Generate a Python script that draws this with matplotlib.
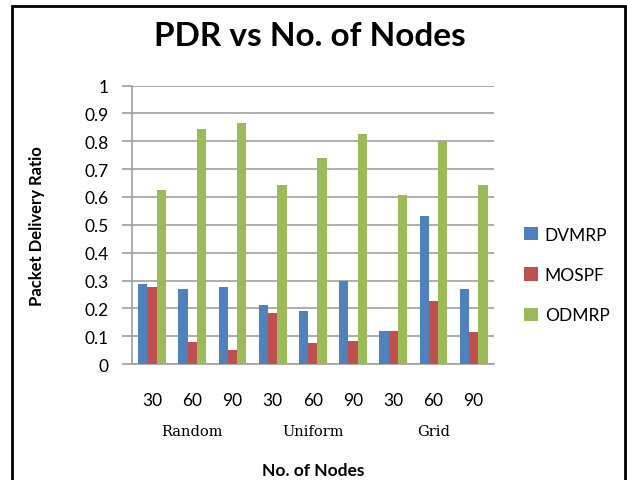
import numpy as np
import matplotlib.pyplot as plt
from matplotlib.patches import Rectangle

nodes = ['30', '60', '90', '30', '60', '90', '30', '60', '90']
groups = ['Random', 'Uniform', 'Grid']
dvmrp = [0.287, 0.27, 0.275, 0.213, 0.189, 0.30, 0.12, 0.533, 0.27]
mospf = [0.275, 0.081, 0.05, 0.182, 0.077, 0.083, 0.12, 0.225, 0.114]
odmrp = [0.626, 0.844, 0.865, 0.644, 0.739, 0.826, 0.607, 0.801, 0.644]

colors = ['#4F81BD', '#C0504D', '#9BBB59']
labels = ['DVMRP', 'MOSPF', 'ODMRP']

fig = plt.figure(figsize=(6.27, 4.81), dpi=100)
ax = fig.add_axes([0.2105, 0.241, 0.577, 0.579])

x = np.arange(len(nodes))
w = 0.23
for i, (vals, c, lab) in enumerate(zip([dvmrp, mospf, odmrp], colors, labels)):
    ax.bar(x + (i - 1) * w, vals, w, color=c, label=lab, zorder=3)

ax.set_xlim(-0.5, len(nodes) - 0.5)
ax.set_ylim(0, 1)
ax.set_yticks(np.arange(0, 1.01, 0.1))
ax.set_yticklabels(['0', '0.1', '0.2', '0.3', '0.4', '0.5', '0.6', '0.7', '0.8', '0.9', '1'],
                   fontfamily='Lato', fontsize=12.5)
ax.set_xticks(x)
ax.set_xticklabels(nodes, fontfamily='Lato', fontsize=12.5)
ax.tick_params(axis='x', length=0, pad=20)
ax.tick_params(axis='y', length=7, color='#A0A0A0', width=1.2, pad=10)
ax.yaxis.grid(True, color='#A0A0A0', linewidth=1.2, zorder=0)
for s in ['top', 'right']:
    ax.spines[s].set_visible(False)
for s in ['left', 'bottom']:
    ax.spines[s].set_color('#A0A0A0')
    ax.spines[s].set_linewidth(1.2)

# group names under the node counts
for j, g in enumerate(groups):
    ax.text(3 * j + 1, -0.24, g, ha='center', va='center',
            fontfamily='DejaVu Serif', fontsize=10.5, transform=ax.transData)

ax.set_xlabel('No. of Nodes', fontfamily='Lato', fontweight='bold', fontsize=12.5, labelpad=39)
ax.set_ylabel('Packet Delivery Ratio', fontfamily='Lato', fontweight='bold', fontsize=12, labelpad=28)
fig.text(0.495, 0.925, 'PDR vs No. of Nodes', ha='center', va='center',
         fontfamily='Lato', fontweight='bold', fontsize=24)

ax.legend(loc='center left', bbox_to_anchor=(1.04, 0.32), frameon=False,
          prop={'family': 'Lato', 'size': 12.5}, handlelength=0.8, handleheight=0.8,
          labelspacing=1.4, handletextpad=0.4)

fig.patches.append(Rectangle((12 / 627, -0.05), 613 / 627, 1 - 7 / 481 + 0.05,
                             transform=fig.transFigure, fill=False,
                             edgecolor='black', linewidth=2))

fig.savefig('out.png', dpi=100)
